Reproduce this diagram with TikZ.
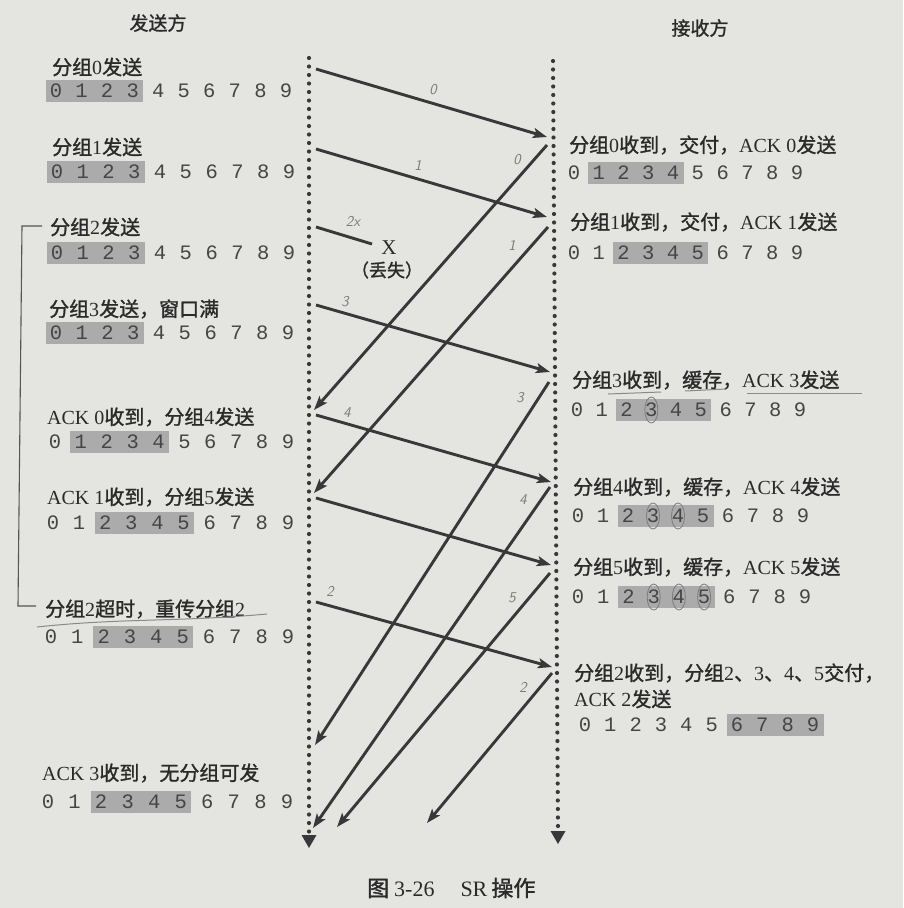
\documentclass[tikz,border=0pt]{standalone}
\usepackage{fontspec}
\setmainfont{Liberation Serif}
\setmonofont{Liberation Mono}
\newfontfamily\cjk[RawFeature={embolden=1.3}]{Noto Sans CJK SC}
\usetikzlibrary{arrows.meta}
\definecolor{bg}{HTML}{E4E4E1}
\definecolor{ink}{HTML}{2A2A2A}
\definecolor{digc}{HTML}{454545}
\definecolor{linec}{HTML}{38383A}
\definecolor{boxc}{HTML}{ABABAB}
\definecolor{pencil}{HTML}{7C7C7C}
\newcommand\cj[1]{{\cjk #1}}
% #1 name prefix, #2 x of digit 0, #3 x of digit 9, #4 y, #5 box from, #6 box to
\newcommand\drow[6]{%
  \pgfmathsetmacro\dstep{(#3-#2)/9}%
  \fill[boxc] ({#2+#5*\dstep-10.5},{#4-11}) rectangle ({#2+#6*\dstep+10.5},{#4+11});
  \foreach \i in {0,...,9} {\node[dig] (#1\i) at ({#2+\i*\dstep},#4) {\i};}
}
\begin{document}
\begin{tikzpicture}[x=1pt,y=-1pt,
  lbl/.style={anchor=west,inner sep=0pt,font=\fontsize{20}{22}\selectfont,text=ink},
  ttl/.style={inner sep=0pt,font=\fontsize{19}{21}\selectfont,text=ink},
  dig/.style={inner sep=0pt,font=\ttfamily\fontsize{20.5}{22}\selectfont,text=digc},
  msg/.style={line width=2.9pt,draw=linec,-{Stealth[length=14pt,width=10pt,inset=3pt]}},
  lost/.style={line width=2.9pt,draw=linec},
  life/.style={line width=4.2pt,draw=linec,line cap=round,dash pattern=on 0pt off 8.5pt},
  tip/.style={fill=linec},
  brk/.style={line width=1.1pt,draw=ink!80},
  hand/.style={inner sep=0pt,font=\sffamily\itshape\fontsize{15}{16}\selectfont,text=pencil},
  penline/.style={line width=1pt,draw=pencil!90},
  circ/.style={line width=0.8pt,draw=pencil}
]
\fill[bg] (0,0) rectangle (903,908);
\useasboundingbox (0,0) rectangle (903,908);

% titles
\node[ttl] (tS) at (158,23) {\cj{发送方}};
\node[ttl] (tR) at (700,28) {\cj{接收方}};

% life lines
\coordinate (sTop) at (309,58);
\coordinate (sBot) at (309,834);
\coordinate (rTop) at (553,61);
\coordinate (rBot) at (558,830);
\draw[life] (sTop) -- (sBot);
\draw[life] (rTop) -- (rBot);
\fill[tip] (301.5,835) -- (316.5,835) -- (309,848) -- cycle;
\fill[tip] (550.5,831) -- (565.5,831) -- (558,844) -- cycle;

% sender labels
\node[lbl] (L0) at (52,67) {\cj{分组}0\cj{发送}};
\node[lbl] (L1) at (52,147) {\cj{分组}1\cj{发送}};
\node[lbl] (L2) at (50,227) {\cj{分组}2\cj{发送}};
\node[lbl] (L3) at (49,309) {\cj{分组}3\cj{发送，窗口满}};
\node[lbl] (L4) at (47,417) {ACK 0\cj{收到，分组}4\cj{发送}};
\node[lbl] (L5) at (47,497) {ACK 1\cj{收到，分组}5\cj{发送}};
\node[lbl] (L6) at (45,609) {\cj{分组}2\cj{超时，重传分组}2};
\node[lbl] (L7) at (42,773) {ACK 3\cj{收到，无分组可发}};

% sender windows
\drow{sa}{56}{286}{91}{0}{3}
\drow{sb}{57}{289}{172}{0}{3}
\drow{sc}{57}{289}{253}{0}{3}
\drow{sd}{56}{288}{333}{0}{3}
\drow{se}{55}{288}{442}{1}{4}
\drow{sf}{53}{288}{523}{2}{5}
\drow{sg}{51}{288}{637}{2}{5}
\drow{sh}{48}{287}{802}{2}{5}

% bracket
\coordinate (bT) at (42,226);
\coordinate (bTc) at (22,226);
\coordinate (bBc) at (18,606);
\coordinate (bB) at (36,606);
\draw[brk] (bT) -- (bTc) -- (bBc) -- (bB);

% receiver labels
\node[lbl] (R0) at (569,145) {\cj{分组}0\cj{收到，交付，}ACK 0\cj{发送}};
\node[lbl] (R1) at (570,222) {\cj{分组}1\cj{收到，交付，}ACK 1\cj{发送}};
\node[lbl] (R3) at (572,380) {\cj{分组}3\cj{收到，缓存，}ACK 3\cj{发送}};
\node[lbl] (R4) at (573,487) {\cj{分组}4\cj{收到，缓存，}ACK 4\cj{发送}};
\node[lbl] (R5) at (573,567) {\cj{分组}5\cj{收到，缓存，}ACK 5\cj{发送}};
\node[lbl] (R2a) at (574,673) {\cj{分组}2\cj{收到，分组}2\cj{、}3\cj{、}4\cj{、}5\cj{交付，}};
\node[lbl] (R2b) at (574,699) {ACK 2\cj{发送}};

% receiver windows
\drow{ra}{574}{797}{173}{1}{4}
\drow{rb}{574}{797}{253}{2}{5}
\drow{rc}{577}{800}{410}{2}{5}
\drow{rd}{578}{803}{516}{2}{5}
\drow{re}{578}{805}{597}{2}{5}
\drow{rf}{585}{813}{725}{6}{9}

% message endpoints
\coordinate (p0s) at (316,69);  \coordinate (p0e) at (547,137);
\coordinate (p1s) at (316,149); \coordinate (p1e) at (547,217);
\coordinate (p2s) at (316,227); \coordinate (p2e) at (372,244);
\coordinate (p3s) at (316,305); \coordinate (p3e) at (550,372);
\coordinate (p4s) at (316,415); \coordinate (p4e) at (551,482);
\coordinate (p5s) at (316,498); \coordinate (p5e) at (551,565);
\coordinate (p6s) at (316,602); \coordinate (p6e) at (552,667);
\coordinate (a0s) at (547,145); \coordinate (a0e) at (314,410);
\coordinate (a1s) at (548,227); \coordinate (a1e) at (314,493);
\coordinate (a3s) at (549,382); \coordinate (a3e) at (315,745);
\coordinate (a4s) at (550,487); \coordinate (a4e) at (313,828);
\coordinate (a5s) at (550,573); \coordinate (a5e) at (337,827);
\coordinate (a2s) at (552,673); \coordinate (a2e) at (427,823);

\draw[msg] (p0s) -- (p0e);
\draw[msg] (p1s) -- (p1e);
\draw[lost] (p2s) -- (p2e);
\draw[msg] (p3s) -- (p3e);
\draw[msg] (p4s) -- (p4e);
\draw[msg] (p5s) -- (p5e);
\draw[msg] (p6s) -- (p6e);
\draw[msg] (a0s) -- (a0e);
\draw[msg] (a1s) -- (a1e);
\draw[msg] (a3s) -- (a3e);
\draw[msg] (a4s) -- (a4e);
\draw[msg] (a5s) -- (a5e);
\draw[msg] (a2s) -- (a2e);

% lost marker
\node[inner sep=0pt,font=\fontsize{21}{22}\selectfont,text=ink] (X) at (389,248) {X};
\node[inner sep=0pt,font=\fontsize{18}{20}\selectfont,text=ink] (lostT) at (387,270) {\cj{（丢失）}};

% pencil annotations
\node[hand] (h0) at (433,90) {0};
\node[hand] (h1) at (418,165) {1};
\node[hand] (h2) at (353,221) {2x};
\node[hand] (h3) at (345,302) {3};
\node[hand] (h4) at (347,413) {4};
\node[hand] (h5) at (330,591) {2};
\node[hand] (k0) at (517,160) {0};
\node[hand] (k1) at (512,245) {1};
\node[hand] (k3) at (520,398) {3};
\node[hand] (k4) at (523,500) {4};
\node[hand] (k5) at (512,598) {5};
\node[hand] (k2) at (523,687) {2};

\coordinate (u1a) at (37,627); \coordinate (u1b) at (267,614);
\draw[penline] (u1a) .. controls (120,618) and (180,622) .. (u1b);
\coordinate (u2a) at (608,394); \coordinate (u2b) at (661,392);
\draw[penline] (u2a) -- (u2b);
\coordinate (u3a) at (685,391); \coordinate (u3b) at (726,389);
\draw[penline] (u3a) -- (u3b);
\coordinate (u4a) at (747,393); \coordinate (u4b) at (862,393);
\draw[penline] (u4a) -- (u4b);

\draw[circ] (rc3.center) ellipse (6.5 and 13);
\draw[circ] (rd3.center) ellipse (6.5 and 13);
\draw[circ] (rd4.center) ellipse (6.5 and 13);
\draw[circ] (re3.center) ellipse (6.5 and 13);
\draw[circ] (re4.center) ellipse (6.5 and 13);
\draw[circ] (re5.center) ellipse (6.5 and 13);

% caption
\node[anchor=west,inner sep=0pt,font=\fontsize{22}{24}\selectfont,text=ink] (cap) at (367,888)
  {\cj{图}\hspace{5pt}3-26\hspace{26pt}SR\hspace{4pt}\cj{操作}};
\end{tikzpicture}
\end{document}
